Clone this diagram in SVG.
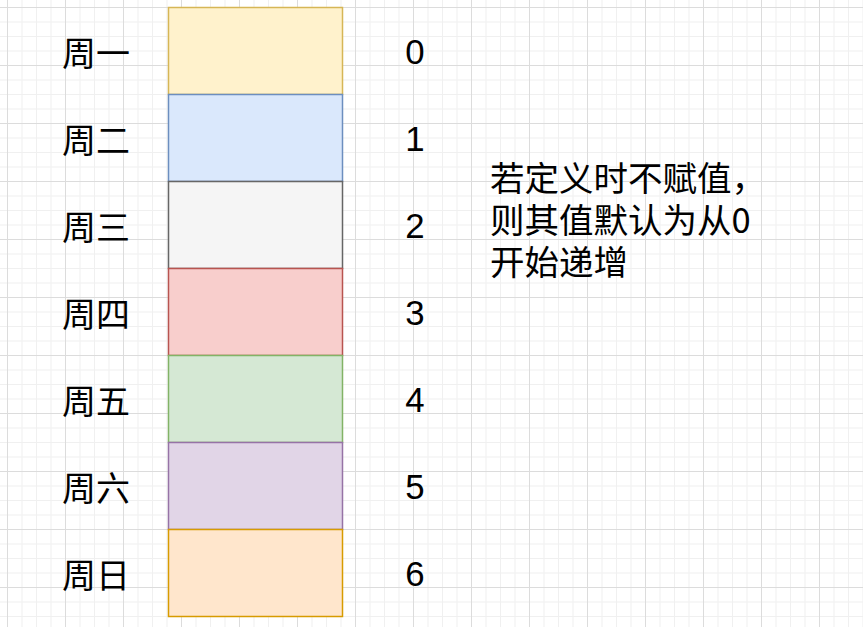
<svg xmlns="http://www.w3.org/2000/svg" width="863" height="627" viewBox="0 0 863 627">
  <style>
    .cell { stroke-width: 1.5; }
    .day { font-family: "Noto Sans CJK SC", "Noto Sans", sans-serif; font-size: 34px; fill: #000000; text-anchor: middle; dominant-baseline: central; }
    .num { font-family: "Liberation Sans", Arial, sans-serif; font-size: 34.8px; fill: #000000; text-anchor: middle; }
    .note { font-family: "Noto Sans CJK SC", "Noto Sans", sans-serif; font-size: 34.5px; fill: #000000; dominant-baseline: central; }
  </style>
  <defs>
    <pattern id="grid" x="7" y="7" width="58" height="58" patternUnits="userSpaceOnUse">
      <rect x="14.5" y="0" width="1" height="58" fill="#f0f0f0"/>
      <rect x="29" y="0" width="1" height="58" fill="#f0f0f0"/>
      <rect x="43.5" y="0" width="1" height="58" fill="#f0f0f0"/>
      <rect x="0" y="14.5" width="58" height="1" fill="#f0f0f0"/>
      <rect x="0" y="29" width="58" height="1" fill="#f0f0f0"/>
      <rect x="0" y="43.5" width="58" height="1" fill="#f0f0f0"/>
      <rect x="0" y="0" width="1" height="58" fill="#dcdcdc"/>
      <rect x="0" y="0" width="58" height="1" fill="#dcdcdc"/>
    </pattern>
  </defs>
  <rect x="0" y="0" width="863" height="627" fill="#ffffff"/>
  <rect x="0" y="0" width="863" height="627" fill="url(#grid)"/>

  <g id="mon">
    <rect class="cell" x="168.5" y="7.5" width="174" height="87" fill="#fff2cc" stroke="#d6b656"/>
    <text class="day" x="96" y="51">周一</text>
    <text class="num" x="415" y="63.5">0</text>
  </g>
  <g id="tue">
    <rect class="cell" x="168.5" y="94.5" width="174" height="87" fill="#dae8fc" stroke="#6c8ebf"/>
    <text class="day" x="96" y="138">周二</text>
    <text class="num" x="415" y="150.5">1</text>
  </g>
  <g id="wed">
    <rect class="cell" x="168.5" y="181.5" width="174" height="87" fill="#f5f5f5" stroke="#666666"/>
    <text class="day" x="96" y="225">周三</text>
    <text class="num" x="415" y="237.5">2</text>
  </g>
  <g id="thu">
    <rect class="cell" x="168.5" y="268.5" width="174" height="87" fill="#f8cecc" stroke="#b85450"/>
    <text class="day" x="96" y="312">周四</text>
    <text class="num" x="415" y="324.5">3</text>
  </g>
  <g id="fri">
    <rect class="cell" x="168.5" y="355.5" width="174" height="87" fill="#d5e8d4" stroke="#82b366"/>
    <text class="day" x="96" y="399">周五</text>
    <text class="num" x="415" y="411.5">4</text>
  </g>
  <g id="sat">
    <rect class="cell" x="168.5" y="442.5" width="174" height="87" fill="#e1d5e7" stroke="#9673a6"/>
    <text class="day" x="96" y="486">周六</text>
    <text class="num" x="415" y="498.5">5</text>
  </g>
  <g id="sun">
    <rect class="cell" x="168.5" y="529.5" width="174" height="87" fill="#ffe6cc" stroke="#d79b00"/>
    <text class="day" x="96" y="573">周日</text>
    <text class="num" x="415" y="585.5">6</text>
  </g>

  <g id="note">
    <text class="note" x="490" y="176"><tspan x="490" y="176">若定义时不赋值，</tspan><tspan x="490" y="218">则其值默认为从0</tspan><tspan x="490" y="260">开始递增</tspan></text>
  </g>

  <g id="connectors"></g>
</svg>
